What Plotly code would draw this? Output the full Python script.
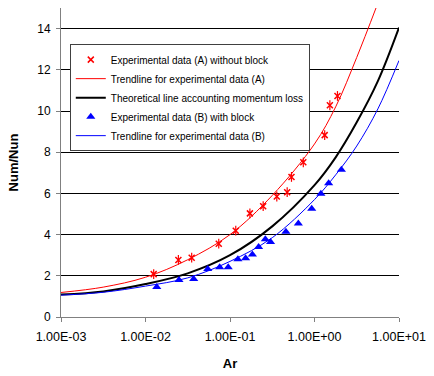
import plotly.graph_objects as go

# Experimental data (A) without block
ar_a = [0.0125, 0.0245, 0.0352, 0.0736, 0.117, 0.172, 0.247, 0.358, 0.475, 0.534, 0.737, 1.32, 1.52, 1.87]
nu_a = [2.08, 2.77, 2.88, 3.56, 4.19, 5.03, 5.38, 5.85, 6.06, 6.80, 7.51, 8.83, 10.28, 10.73]

# Experimental data (B) with block
ar_b = [0.0136, 0.0249, 0.0372, 0.0545, 0.0755, 0.0953, 0.124, 0.153, 0.184, 0.218, 0.262, 0.302,
        0.459, 0.644, 0.927, 1.19, 1.47, 2.08]
nu_b = [1.46, 1.80, 1.85, 2.33, 2.42, 2.42, 2.80, 2.85, 3.04, 3.40, 3.78, 3.64,
        4.14, 4.54, 5.25, 5.98, 6.49, 7.15]

# Curves
ar_curve = [0.001, 0.00316, 0.01, 0.0316, 0.1, 0.316, 1.0, 1.78, 3.16, 5.62, 10.0]
trend_a_x = [0.001, 0.00316, 0.01, 0.0316, 0.1, 0.316, 1.0, 1.78, 3.16, 5.4]
trend_a_y = [1.19, 1.45, 1.93, 2.78, 4.0, 5.9, 8.4, 10.2, 12.6, 15.05]
theory_y = [1.09, 1.24, 1.60, 2.12, 3.0, 4.4, 6.4, 7.75, 9.45, 11.45, 14.05]
trend_b_y = [1.06, 1.20, 1.50, 1.90, 2.70, 3.85, 5.7, 6.9, 8.3, 10.1, 12.45]

x_tickvals = [0.001, 0.01, 0.1, 1, 10]
x_ticktext = ["1.00E-03", "1.00E-02", "1.00E-01", "1.00E+00", "1.00E+01"]
y_tickvals = [0, 2, 4, 6, 8, 10, 12, 14]

names = [
    "Experimental data (A) without block",
    "Trendline for experimental data (A)",
    "Theoretical line accounting momentum loss",
    "Experimental data (B) with block",
    "Trendline for experimental data (B)",
]

RED = "#FF0000"
BLUE = "#0000FF"
FONT = "Liberation Sans, Arial, sans-serif"

fig = go.Figure()

fig.add_trace(go.Scatter(
    x=ar_a, y=nu_a, mode="markers", name=names[0], legendgroup="a",
    marker=dict(symbol="x-thin-open", size=6, color=RED, line=dict(color=RED, width=1.5)),
))
fig.add_trace(go.Scatter(
    x=ar_a, y=nu_a, mode="markers", showlegend=False, legendgroup="a", hoverinfo="skip",
    marker=dict(symbol="line-ns-open", size=7, color=RED, line=dict(color=RED, width=1.2)),
))
fig.add_trace(go.Scatter(
    x=trend_a_x, y=trend_a_y, mode="lines", name=names[1],
    line=dict(color=RED, width=1, shape="spline", smoothing=1.0),
))
fig.add_trace(go.Scatter(
    x=ar_curve, y=theory_y, mode="lines", name=names[2],
    line=dict(color="#000000", width=2, shape="spline", smoothing=1.0),
))
fig.add_trace(go.Scatter(
    x=ar_b, y=nu_b, mode="markers", name=names[3],
    marker=dict(symbol="triangle-up", size=8, color=BLUE),
))
fig.add_trace(go.Scatter(
    x=ar_curve, y=trend_b_y, mode="lines", name=names[4],
    line=dict(color=BLUE, width=1, shape="spline", smoothing=1.0),
))

fig.update_layout(
    width=434, height=376,
    margin=dict(l=61, r=27, t=8, b=51),
    paper_bgcolor="white", plot_bgcolor="white",
    font=dict(family=FONT, size=12, color="#000000"),
    showlegend=True,
    legend=dict(
        x=0.026, y=0.883, xanchor="left", yanchor="top",
        bgcolor="white", bordercolor="#404040", borderwidth=1,
        font=dict(family=FONT, size=10, color="#000000"),
        itemwidth=30, traceorder="normal",
    ),
)

fig.update_xaxes(
    type="log", range=[-3, 1],
    tickvals=x_tickvals, ticktext=x_ticktext,
    ticks="outside", ticklen=4, tickcolor="#808080",
    ticklabelstandoff=4,
    showline=True, linecolor="#808080", linewidth=1,
    showgrid=False, zeroline=False,
    tickfont=dict(family=FONT, size=12.5, color="#000000"),
    title=dict(text="<b>Ar</b>", font=dict(family=FONT, size=13, color="#000000")),
)
fig.update_yaxes(
    range=[0, 15], tickvals=y_tickvals,
    ticks="outside", ticklen=4, tickcolor="#808080",
    ticklabelstandoff=3,
    showline=True, linecolor="#808080", linewidth=1,
    showgrid=True, gridcolor="#000000", gridwidth=1, zeroline=False,
    tickfont=dict(family=FONT, size=12, color="#000000"),
    title=dict(text="<b>Num/Nun</b>", font=dict(family=FONT, size=13, color="#000000")),
)

fig.write_html(
    "out.html",
    config={"displayModeBar": False},
    post_script="document.body.style.margin='0';",
)
